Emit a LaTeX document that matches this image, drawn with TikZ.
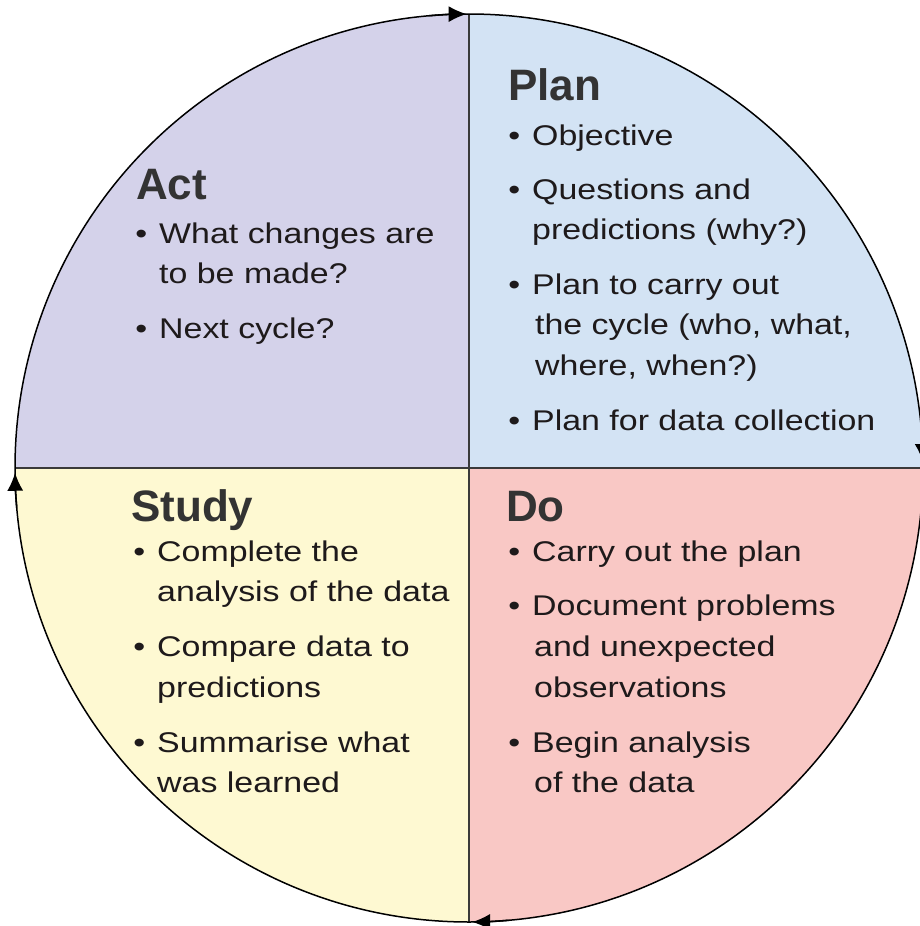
\documentclass[tikz,border=0pt]{standalone}
\usepackage{fontspec}
\setmainfont{Liberation Sans}
\newfontfamily\bodyfont[FakeStretch=1.19]{Liberation Sans}
\newfontfamily\headfont{Liberation Sans}
\usetikzlibrary{arrows.meta}
\definecolor{actc}{HTML}{D4D2EA}
\definecolor{planc}{HTML}{D3E3F4}
\definecolor{studyc}{HTML}{FEF9D2}
\definecolor{doc}{HTML}{F9C8C5}
\definecolor{textc}{HTML}{1E1A1B}
\definecolor{headc}{HTML}{333333}
\definecolor{linec}{HTML}{3A3A3A}
\tikzset{
  head/.style={anchor=base west, inner sep=0pt, text=headc, font=\headfont\bfseries\fontsize{44}{50}\selectfont},
  body/.style={anchor=base west, inner sep=0pt, text=textc, font=\bodyfont\fontsize{28.5}{40}\selectfont},
  item/.style={body},
  rim/.style={draw=black, line width=1.5pt},
  divider/.style={draw=linec, line width=1.5pt},
  cyclearrow/.style={black, line width=1.6pt, -{Latex[length=18pt,width=16pt]}}
}
\newcommand{\bul}{\llap{\textbullet\hspace{12pt}}}
\begin{document}
\begin{tikzpicture}[x=1pt,y=-1pt]
\fill[white] (0,0) rectangle (920,926);
\useasboundingbox (0,0) rectangle (920,926);
\begin{scope}[shift={(469,468)}]
  \coordinate (C) at (0,0);
  \fill[actc]   (C) -- (180:454) arc[start angle=180,end angle=270,radius=454] -- cycle;
  \fill[planc]  (C) -- (270:454) arc[start angle=270,end angle=360,radius=454] -- cycle;
  \fill[doc]    (C) -- (0:454) arc[start angle=0,end angle=90,radius=454] -- cycle;
  \fill[studyc] (C) -- (90:454) arc[start angle=90,end angle=180,radius=454] -- cycle;
  \coordinate (T) at (270:454);
  \coordinate (B) at (90:454);
  \coordinate (L) at (180:454);
  \coordinate (R) at (0:454);
  \draw[divider] (T) -- (B);
  \draw[divider] (L) -- (R);
  \draw[rim] (C) circle[radius=454];
  \draw[cyclearrow] (-95:454) arc[start angle=-95,end angle=-90.3,radius=454];
  \draw[cyclearrow] (85:454) arc[start angle=85,end angle=89.6,radius=454];
  \draw[cyclearrow] (175:454) arc[start angle=175,end angle=179.4,radius=454];
  \draw[cyclearrow] (-5:454) arc[start angle=-5,end angle=-0.75,radius=454];
\end{scope}
% Act
\node[head] (acth) at (136,199) {Act};
\node[item] (act1) at (159,243) {\bul What changes are};
\node[body] (act1b) at (159,283) {to be made?};
\node[item] (act2) at (159,338) {\bul Next cycle?};
% Plan
\node[head] (planh) at (508,100) {Plan};
\node[item] (plan1) at (532,145) {\bul Objective};
\node[item] (plan2) at (532,199) {\bul Questions and};
\node[body] (plan2b) at (532,239) {predictions (why?)};
\node[item] (plan3) at (532,294) {\bul Plan to carry out};
\node[body] (plan3b) at (535,334) {the cycle (who, what,};
\node[body] (plan3c) at (535,375) {where, when?)};
\node[item] (plan4) at (532,430) {\bul Plan for data collection};
% Study
\node[head] (studyh) at (131,521) {Study};
\node[item] (study1) at (157,561) {\bul Complete the};
\node[body] (study1b) at (157,601) {analysis of the data};
\node[item] (study2) at (157,656) {\bul Compare data to};
\node[body] (study2b) at (157,697) {predictions};
\node[item] (study3) at (157,752) {\bul Summarise what};
\node[body] (study3b) at (157,792) {was learned};
% Do
\node[head] (doh) at (506,521) {Do};
\node[item] (do1) at (532,561) {\bul Carry out the plan};
\node[item] (do2) at (532,615) {\bul Document problems};
\node[body] (do2b) at (534,656) {and unexpected};
\node[body] (do2c) at (534,697) {observations};
\node[item] (do3) at (532,752) {\bul Begin analysis};
\node[body] (do3b) at (534,792) {of the data};
\end{tikzpicture}
\end{document}
